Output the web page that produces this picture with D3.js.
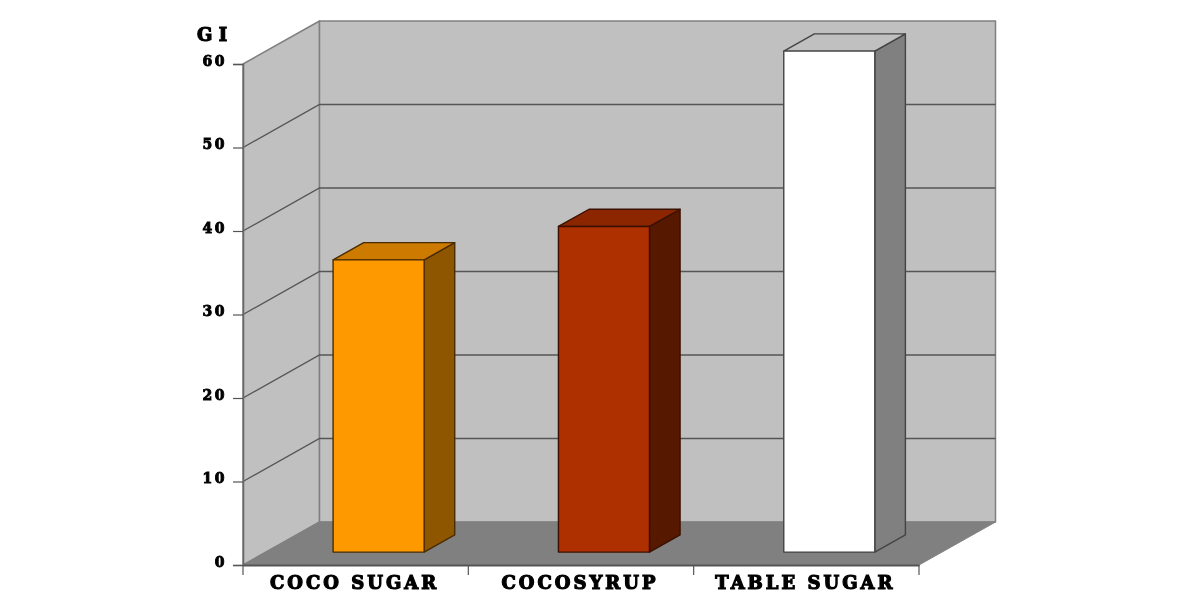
<!DOCTYPE html>
<html>
<head>
<meta charset="utf-8">
<script src="https://cdn.jsdelivr.net/npm/d3@7"></script>
<style>
  html, body { margin: 0; padding: 0; background: #fff; }
  svg { display: block; filter: blur(0.5px); }
  text { font-family: "DejaVu Serif", serif; font-weight: bold; fill: #000; stroke: #000; stroke-width: 1.2px; }
</style>
</head>
<body>
<div id="chart"></div>
<script>
/* values */
var categories = ["COCO SUGAR", "COCOSYRUP", "TABLE SUGAR"];
var giValues   = [35, 39, 60];
var yTicks     = [0, 10, 20, 30, 40, 50, 60];
var yLabel     = "G I";

var frontColors = ["#ff9900", "#ae2f00", "#ffffff"];
var sideColors  = ["#8f5600", "#571800", "#808080"];
var topColors   = ["#cc7a00", "#8b2600", "#c0c0c0"];
var edgeColors  = ["#4a2c00", "#3a1000", "#444444"];

(function() {

var svg = d3.select("#chart").append("svg")
  .attr("width", 1200)
  .attr("height", 600);

var x = d3.scaleBand().domain(categories).range([243, 919])
  .paddingInner(0.596).paddingOuter(0.298);
var y = d3.scaleLinear().domain([0, 60]).range([565, 64]);

// depth of the fake 3d box: 0 is the front plane, 1 the back wall
var depth = d3.scaleLinear().domain([0, 1]);
var dx = depth.copy().range([0, 76.5]);
var dy = depth.copy().range([0, -43]);

function pt(px, value, d) {
  return [px + dx(d), y(value) + dy(d)];
}
function poly(g, points, fill, stroke, width) {
  return g.append("polygon")
    .attr("points", points.map(function(p) { return p.join(","); }).join(" "))
    .attr("fill", fill)
    .attr("stroke", stroke)
    .attr("stroke-width", width)
    .attr("stroke-linejoin", "round");
}

var x0 = x.range()[0], x1 = x.range()[1], top = d3.max(yTicks);

/* walls and floor */
var box = svg.append("g");
poly(box, [pt(x0, 0, 0), pt(x0, top, 0), pt(x0, top, 1), pt(x0, 0, 1)], "#c0c0c0", "#808080", 1.5);
poly(box, [pt(x0, 0, 1), pt(x0, top, 1), pt(x1, top, 1), pt(x1, 0, 1)], "#c0c0c0", "#808080", 1.5);
poly(box, [pt(x0, 0, 0), pt(x0, 0, 1), pt(x1, 0, 1), pt(x1, 0, 0)], "#808080", "#808080", 1);

/* gridlines run along the side wall and back wall */
box.selectAll(".grid")
  .data(yTicks.filter(function(t) { return t > 0 && t < top; }))
  .enter().append("polyline")
  .attr("class", "grid")
  .attr("fill", "none")
  .attr("stroke", "#555")
  .attr("stroke-width", 1.4)
  .attr("points", function(t) {
    return [pt(x0, t, 0), pt(x0, t, 1), pt(x1, t, 1)].map(function(p) { return p.join(","); }).join(" ");
  });

/* bars */
categories.forEach(function(c, i) {
  var g = svg.append("g");
  var l = x(c), r = l + x.bandwidth(), v = giValues[i];
  var edge = edgeColors[i];
  poly(g, [pt(r, 0, 0.3), pt(r, v, 0.3), pt(r, v, 0.7), pt(r, 0, 0.7)], sideColors[i], edge, 1.4);
  poly(g, [pt(l, v, 0.3), pt(l, v, 0.7), pt(r, v, 0.7), pt(r, v, 0.3)], topColors[i], edge, 1.4);
  poly(g, [pt(l, 0, 0.3), pt(l, v, 0.3), pt(r, v, 0.3), pt(r, 0, 0.3)], frontColors[i], edge, 1.4);
});

/* axes */
var yAxis = svg.append("g")
  .attr("transform", "translate(" + x0 + ",0)")
  .call(d3.axisLeft(y).tickValues(yTicks).tickSize(10).tickPadding(6));
yAxis.select(".domain").attr("stroke", "#666").attr("stroke-width", 1.5);
yAxis.selectAll("line").attr("stroke", "#555").attr("stroke-width", 1.2);
yAxis.selectAll("text")
  .attr("dy", "1px")
  .style("font-size", "14px")
  .style("stroke-width", "0.9px")
  .style("letter-spacing", "2.5px");

var xAxis = svg.append("g")
  .attr("transform", "translate(0," + y(0) + ")")
  .call(d3.axisBottom(x).tickSize(0).tickPadding(11));
xAxis.select(".domain").attr("stroke", "#555").attr("stroke-width", 2);
xAxis.selectAll("text")
  .attr("dx", "-1px")
  .style("font-size", "18px")
  .style("letter-spacing", "3px");

// category ticks sit on the band edges, not the band centres
svg.append("g").selectAll("line")
  .data(d3.range(categories.length + 1))
  .enter().append("line")
  .attr("x1", function(i) { return x0 + i * x.step(); })
  .attr("x2", function(i) { return x0 + i * x.step(); })
  .attr("y1", y(0))
  .attr("y2", y(0) + 10)
  .attr("stroke", "#555")
  .attr("stroke-width", 1.2);

svg.append("text")
  .attr("x", 197)
  .attr("y", 41)
  .style("font-size", "18px")
  .text(yLabel);

})();
</script>
</body>
</html>
